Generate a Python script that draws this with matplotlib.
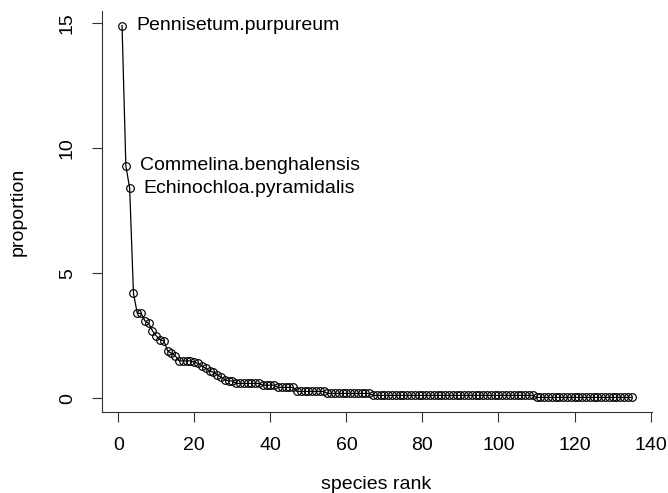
import numpy as np
import matplotlib
matplotlib.use("Agg")
import matplotlib.pyplot as plt

plt.rcParams['font.family'] = ['Liberation Sans', 'DejaVu Sans']

# proportions (%) of each species, ordered by rank
top_props = [14.9, 9.3, 8.4, 4.2, 3.4, 3.4, 3.1, 3.0, 2.7, 2.5, 2.35, 2.3,
             1.9, 1.8, 1.7, 1.5, 1.5, 1.5, 1.5, 1.45, 1.4, 1.3, 1.2, 1.1,
             1.05, 0.95, 0.85, 0.75, 0.7, 0.7]
# tail: (value, number of species at that value)
tail_levels = [0.6, 0.53, 0.44, 0.28, 0.2, 0.12, 0.04]
tail_counts = [7, 4, 5, 8, 12, 43, 26]

labelled = {1: "Pennisetum.purpureum",
            2: "Commelina.benghalensis",
            3: "Echinochloa.pyramidalis"}

props = np.array(top_props + [v for v, n in zip(tail_levels, tail_counts) for _ in range(n)])
rank = np.arange(1, len(props) + 1)

fs = 14

fig = plt.figure(figsize=(6.68, 4.93), dpi=100)
ax = fig.add_axes([0.1522, 0.1637, 0.8238, 0.8146])

ax.plot(rank, props, color='black', lw=0.9, marker='o', ms=5.5,
        mfc='none', mec='black', mew=0.85)

for r, name in labelled.items():
    ax.annotate(name, (r, props[r - 1]), xytext=(10, 0), textcoords='offset points',
                ha='left', va='center', fontsize=fs)

# R-style 4% padding around the data range
span_x = rank.max() - rank.min()
ax.set_xlim(rank.min() - 0.04 * span_x, rank.max() + 0.04 * span_x)
span_y = props.max() - props.min()
ax.set_ylim(props.min() - 0.04 * span_y, props.max() + 0.04 * span_y)

ax.set_xticks([0, 20, 40, 60, 80, 100, 120, 140])
ax.set_yticks([0, 5, 10, 15])
for lab in ax.get_yticklabels():
    lab.set_rotation(90)
    lab.set_va('center')

ax.tick_params(axis='both', labelsize=fs, length=7.5, width=0.8, color='#333333')
ax.tick_params(axis='x', pad=10)
ax.tick_params(axis='y', pad=11)

ax.spines['top'].set_visible(False)
ax.spines['right'].set_visible(False)
for s in ['left', 'bottom']:
    ax.spines[s].set_linewidth(0.8)
    ax.spines[s].set_color('#333333')

ax.set_xlabel("species rank", fontsize=fs)
ax.set_ylabel("proportion", fontsize=fs)
ax.xaxis.set_label_coords(0.498, -0.158)
ax.yaxis.set_label_coords(-0.136, 0.5)

fig.savefig("out.png", dpi=100)
